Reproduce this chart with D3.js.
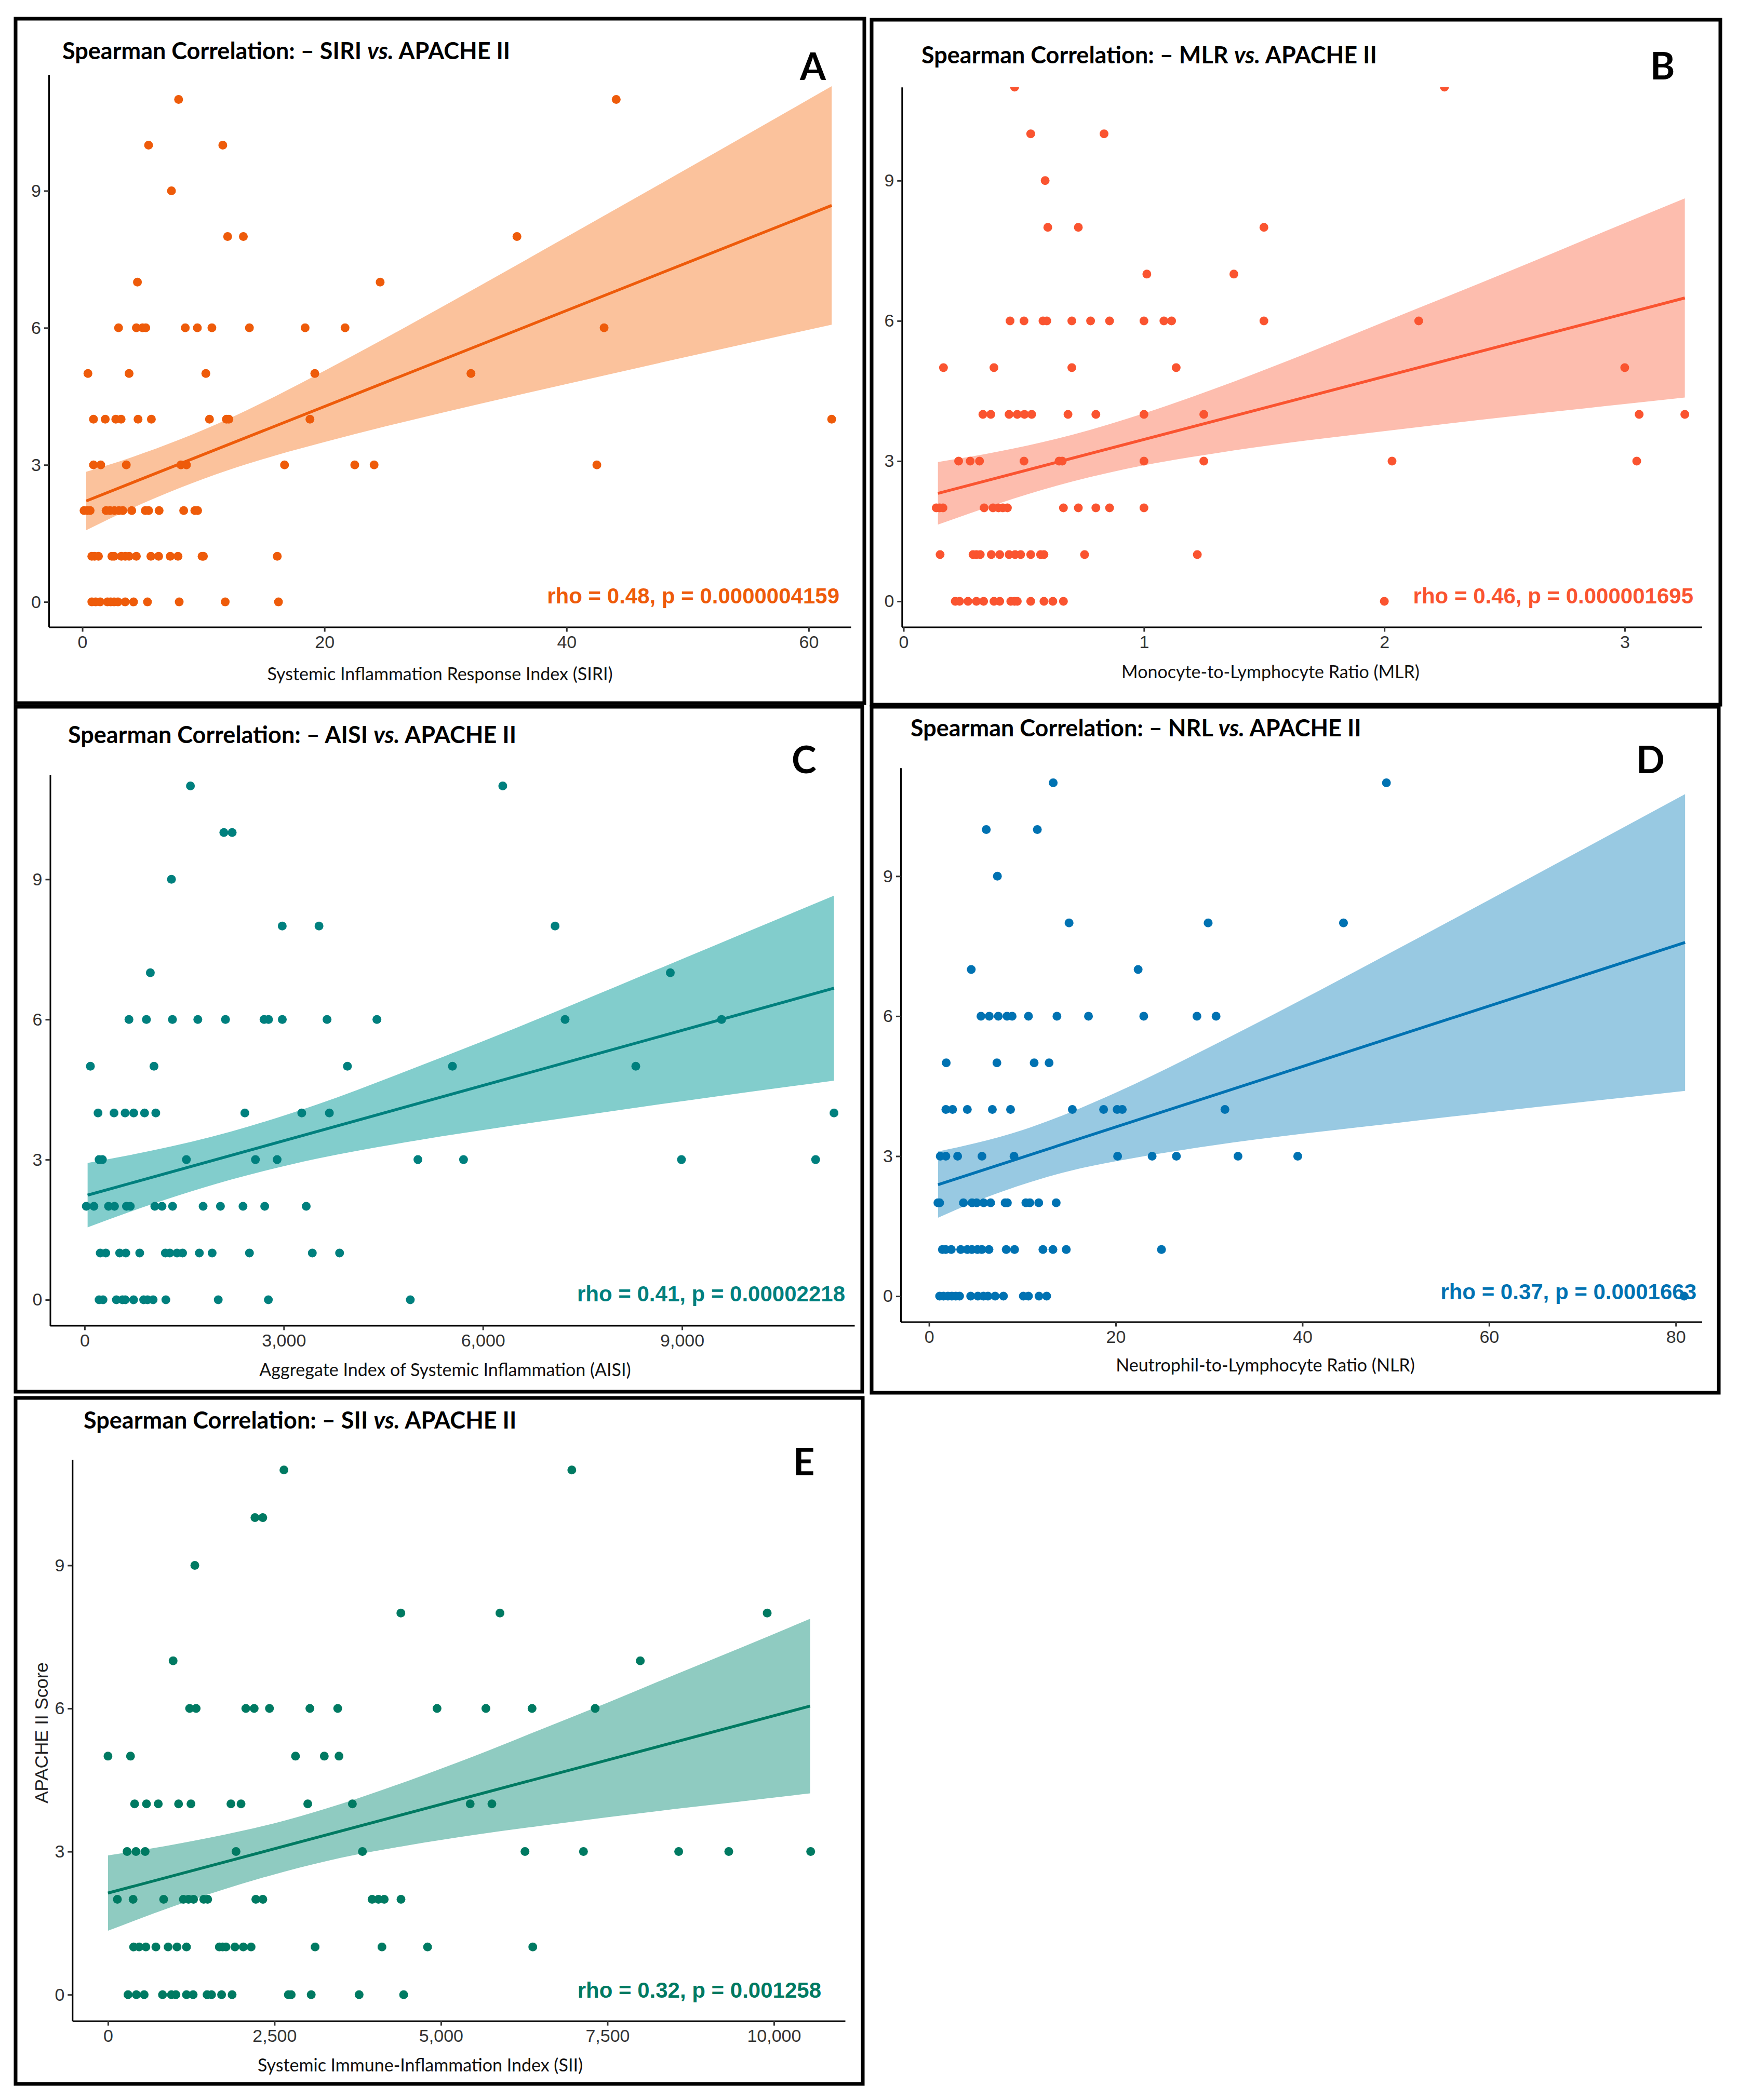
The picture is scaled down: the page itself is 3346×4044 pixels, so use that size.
<!DOCTYPE html>
<html>
<head>
<meta charset="utf-8">
<script src="https://cdn.jsdelivr.net/npm/d3@7"></script>
<style>
  body { margin: 0; background: #fff; }
  svg { display: block; }
  text { white-space: pre; }
</style>
</head>
<body>
<div id="chart"></div>
<script>
// ---- data: [index value, APACHE II score] ----
const yTicks = [0, 3, 6, 9];

const siriPoints = [
  [7.95, 11], [44.1, 11],
  [5.47, 10], [11.6, 10],
  [7.36, 9],
  [12.0, 8], [13.3, 8], [35.9, 8],
  [4.55, 7], [24.6, 7],
  [2.99, 6], [4.46, 6], [4.97, 6], [5.24, 6], [8.5, 6], [9.5, 6], [10.7, 6], [13.8, 6], [18.4, 6], [21.7, 6], [43.1, 6],
  [0.46, 5], [3.86, 5], [10.2, 5], [19.2, 5], [32.1, 5],
  [0.92, 4], [1.89, 4], [2.76, 4], [3.2, 4], [4.6, 4], [5.7, 4], [10.5, 4], [11.9, 4], [12.1, 4], [18.8, 4], [61.9, 4],
  [0.92, 3], [1.52, 3], [3.63, 3], [8.14, 3], [8.6, 3], [16.7, 3], [22.5, 3], [24.1, 3], [42.5, 3],
  [0.14, 2], [0.41, 2], [0.64, 2], [1.96, 2], [2.28, 2], [2.65, 2], [3.02, 2], [3.34, 2], [4.08, 2], [5.2, 2], [5.47, 2], [6.34, 2], [8.37, 2], [9.29, 2], [9.52, 2],
  [0.78, 1], [1.01, 1], [1.33, 1], [2.44, 1], [2.62, 1], [3.22, 1], [3.54, 1], [3.86, 1], [4.46, 1], [5.66, 1], [6.3, 1], [7.26, 1], [7.9, 1], [9.89, 1], [10.0, 1], [16.1, 1],
  [0.78, 0], [1.1, 0], [1.47, 0], [2.07, 0], [2.34, 0], [2.62, 0], [2.94, 0], [3.54, 0], [4.23, 0], [5.38, 0], [8.0, 0], [11.8, 0], [16.2, 0]
];
const siriFitX = [0.32, 61.9];
const siriFitY = [2.21, 8.68];
const siriBandX = [0.32, 4, 8, 12, 16, 20, 25, 30, 40, 50, 61.9];
const siriBandHi = [2.85, 3.16, 3.55, 4.00, 4.51, 5.06, 5.77, 6.50, 7.99, 9.49, 11.29];
const siriBandLo = [1.57, 2.04, 2.49, 2.88, 3.21, 3.50, 3.84, 4.16, 4.77, 5.37, 6.07];
const siriTicks = [0, 20, 40, 60];

const mlrPoints = [
  [0.462, 11], [2.25, 11],
  [0.529, 10], [0.834, 10],
  [0.589, 9],
  [0.60, 8], [0.727, 8], [1.499, 8],
  [1.012, 7], [1.374, 7],
  [0.443, 6], [0.501, 6], [0.58, 6], [0.596, 6], [0.70, 6], [0.778, 6], [0.857, 6], [1.0, 6], [1.083, 6], [1.115, 6], [1.499, 6], [2.143, 6],
  [0.166, 5], [0.376, 5], [0.70, 5], [1.134, 5], [3.0, 5],
  [0.33, 4], [0.363, 4], [0.439, 4], [0.473, 4], [0.503, 4], [0.533, 4], [0.684, 4], [0.80, 4], [1.0, 4], [1.249, 4], [3.06, 4], [3.25, 4],
  [0.229, 3], [0.277, 3], [0.316, 3], [0.501, 3], [0.647, 3], [0.66, 3], [1.0, 3], [1.249, 3], [2.032, 3], [3.05, 3],
  [0.136, 2], [0.15, 2], [0.164, 2], [0.335, 2], [0.372, 2], [0.395, 2], [0.413, 2], [0.432, 2], [0.665, 2], [0.727, 2], [0.80, 2], [0.857, 2], [1.0, 2],
  [0.152, 1], [0.289, 1], [0.303, 1], [0.319, 1], [0.365, 1], [0.40, 1], [0.439, 1], [0.464, 1], [0.487, 1], [0.529, 1], [0.57, 1], [0.584, 1], [0.753, 1], [1.222, 1],
  [0.215, 0], [0.233, 0], [0.268, 0], [0.303, 0], [0.333, 0], [0.376, 0], [0.40, 0], [0.446, 0], [0.462, 0], [0.473, 0], [0.529, 0], [0.584, 0], [0.621, 0], [0.665, 0], [2.0, 0]
];
const mlrFitX = [0.143, 3.25];
const mlrFitY = [2.31, 6.49];
const mlrBandX = [0.143, 0.4, 0.7, 1.0, 1.3, 1.6, 2.0, 2.5, 3.0, 3.25];
const mlrBandHi = [2.98, 3.21, 3.56, 4.02, 4.56, 5.15, 5.98, 7.02, 8.09, 8.62];
const mlrBandLo = [1.64, 2.10, 2.56, 2.91, 3.17, 3.39, 3.64, 3.94, 4.22, 4.36];
const mlrTicks = [0, 1, 2, 3];

const aisiPoints = [
  [1594, 11], [6299, 11],
  [2097, 10], [2223, 10],
  [1308, 9],
  [2977, 8], [3531, 8], [7087, 8],
  [990, 7], [8823, 7],
  [668, 6], [931, 6], [1323, 6], [1705, 6], [2122, 6], [2703, 6], [2770, 6], [2978, 6], [3652, 6], [4403, 6], [7238, 6], [9595, 6],
  [87, 5], [1045, 5], [3959, 5], [5541, 5], [8303, 5],
  [202, 4], [443, 4], [610, 4], [740, 4], [903, 4], [1072, 4], [2414, 4], [3271, 4], [3687, 4], [11289, 4],
  [218, 3], [268, 3], [1533, 3], [2573, 3], [2900, 3], [5021, 3], [5708, 3], [8991, 3], [11012, 3],
  [25, 2], [140, 2], [360, 2], [450, 2], [630, 2], [688, 2], [1057, 2], [1166, 2], [1325, 2], [1785, 2], [2046, 2], [2386, 2], [2713, 2], [3338, 2],
  [235, 1], [319, 1], [528, 1], [621, 1], [830, 1], [1216, 1], [1283, 1], [1392, 1], [1476, 1], [1728, 1], [1921, 1], [2483, 1], [3430, 1], [3841, 1],
  [218, 0], [277, 0], [478, 0], [570, 0], [612, 0], [738, 0], [889, 0], [948, 0], [1032, 0], [1224, 0], [2013, 0], [2768, 0], [4906, 0]
];
const aisiFitX = [45, 11289];
const aisiFitY = [2.24, 6.67];
const aisiBandX = [45, 1000, 2200, 3500, 5000, 6500, 8000, 9500, 11289];
const aisiBandHi = [2.93, 3.19, 3.60, 4.18, 4.98, 5.82, 6.70, 7.59, 8.65];
const aisiBandLo = [1.55, 2.04, 2.57, 3.02, 3.41, 3.74, 4.05, 4.35, 4.69];
const aisiTicks = [0, 3000, 6000, 9000];

const nlrPoints = [
  [13.3, 11], [49.0, 11],
  [6.13, 10], [11.6, 10],
  [7.32, 9],
  [15.0, 8], [29.9, 8], [44.4, 8],
  [4.52, 7], [22.4, 7],
  [5.56, 6], [6.45, 6], [7.42, 6], [8.35, 6], [8.9, 6], [10.65, 6], [13.7, 6], [17.08, 6], [23.0, 6], [28.7, 6], [30.75, 6],
  [1.84, 5], [7.27, 5], [11.26, 5], [12.86, 5],
  [1.8, 4], [2.52, 4], [4.1, 4], [6.78, 4], [8.73, 4], [15.35, 4], [18.7, 4], [20.15, 4], [20.7, 4], [31.7, 4],
  [1.2, 3], [1.8, 3], [3.06, 3], [5.67, 3], [9.1, 3], [20.2, 3], [23.9, 3], [26.5, 3], [33.1, 3], [39.5, 3],
  [0.95, 2], [1.13, 2], [3.68, 2], [4.6, 2], [5.1, 2], [5.85, 2], [6.6, 2], [8.15, 2], [8.39, 2], [10.37, 2], [10.8, 2], [11.75, 2], [13.62, 2],
  [1.43, 1], [1.78, 1], [2.38, 1], [3.39, 1], [4.1, 1], [4.58, 1], [5.18, 1], [5.65, 1], [6.42, 1], [8.27, 1], [9.16, 1], [12.2, 1], [13.27, 1], [14.7, 1], [24.9, 1],
  [1.13, 0], [1.55, 0], [2.02, 0], [2.44, 0], [2.86, 0], [3.27, 0], [4.46, 0], [5.23, 0], [5.83, 0], [6.31, 0], [7.08, 0], [7.97, 0], [10.1, 0], [10.65, 0], [11.78, 0], [12.6, 0], [80.9, 0]
];
const nlrFitX = [0.96, 81];
const nlrFitY = [2.39, 7.58];
const nlrBandX = [0.96, 5, 10, 15, 20, 30, 40, 50, 60, 70, 81];
const nlrBandHi = [3.10, 3.28, 3.56, 3.93, 4.36, 5.33, 6.36, 7.42, 8.49, 9.57, 10.76];
const nlrBandLo = [1.68, 2.03, 2.39, 2.68, 2.89, 3.22, 3.48, 3.71, 3.94, 4.16, 4.40];
const nlrTicks = [0, 20, 40, 60, 80];

const siiPoints = [
  [2642, 11], [6965, 11],
  [2207, 10], [2324, 10],
  [1304, 9],
  [4398, 8], [5886, 8], [9899, 8],
  [978, 7], [7993, 7],
  [1226, 6], [1324, 6], [2070, 6], [2195, 6], [2425, 6], [3032, 6], [3450, 6], [4941, 6], [5675, 6], [6368, 6], [7316, 6],
  [0, 5], [338, 5], [2816, 5], [3248, 5], [3469, 5],
  [400, 4], [578, 4], [755, 4], [1060, 4], [1246, 4], [1846, 4], [1998, 4], [3000, 4], [3670, 4], [5439, 4], [5765, 4],
  [287, 3], [420, 3], [558, 3], [1923, 3], [3821, 3], [6262, 3], [7140, 3], [8570, 3], [9322, 3], [10552, 3],
  [141, 2], [377, 2], [836, 2], [1132, 2], [1209, 2], [1285, 2], [1438, 2], [1497, 2], [2220, 2], [2325, 2], [3966, 2], [4061, 2], [4148, 2], [4400, 2],
  [385, 1], [468, 1], [569, 1], [719, 1], [903, 1], [1037, 1], [1179, 1], [1672, 1], [1722, 1], [1772, 1], [1906, 1], [2032, 1], [2149, 1], [3110, 1], [4114, 1], [4799, 1], [6379, 1],
  [301, 0], [426, 0], [543, 0], [819, 0], [953, 0], [1020, 0], [1179, 0], [1279, 0], [1488, 0], [1555, 0], [1706, 0], [1864, 0], [2709, 0], [2751, 0], [3052, 0], [3771, 0], [4440, 0]
];
const siiFitX = [0, 10544];
const siiFitY = [2.13, 6.05];
const siiBandX = [0, 1000, 2000, 2650, 3500, 4500, 5500, 6500, 7500, 8500, 9500, 10544];
const siiBandHi = [2.92, 3.15, 3.43, 3.65, 4.00, 4.48, 5.00, 5.56, 6.12, 6.70, 7.27, 7.88];
const siiBandLo = [1.34, 1.86, 2.32, 2.58, 2.87, 3.13, 3.35, 3.54, 3.72, 3.89, 4.05, 4.22];
const siiTicks = [0, 2500, 5000, 7500, 10000];

const panels = [
  {
    letter: 'A', abbr: 'SIRI', xLabel: 'Systemic Inflammation Response Index (SIRI)',
    rho: 'rho = 0.48, p = 0.0000004159', color: '#EE5B0A', band: '#FBC29C',
    points: siriPoints, fitX: siriFitX, fitY: siriFitY,
    bandX: siriBandX, bandHi: siriBandHi, bandLo: siriBandLo, ticks: siriTicks, fmt: d3.format('d'),
    frame: [30, 36, 1664, 1354], xRange: [94, 1638], xDomain: [-2.77, 63.48],
    yRange: [1207.5, 144], yTop: 11.54,
    titlePos: [120, 114], letterPos: [1540, 154], xLabelPos: [847, 1310], rhoPos: [1616, 1162]
  },
  {
    letter: 'B', abbr: 'MLR', xLabel: 'Monocyte-to-Lymphocyte Ratio (MLR)',
    rho: 'rho = 0.46, p = 0.000001695', color: '#FA5430', band: '#FDBDAE',
    points: mlrPoints, fitX: mlrFitX, fitY: mlrFitY,
    bandX: mlrBandX, bandHi: mlrBandHi, bandLo: mlrBandLo, ticks: mlrTicks, fmt: d3.format('d'),
    frame: [1678, 38, 3312, 1357], xRange: [1736.3, 3276.5], xDomain: [-0.007, 3.321],
    yRange: [1207.5, 167.8], yTop: 11.0,
    titlePos: [1774, 122], letterPos: [3177, 153], xLabelPos: [2446, 1306], rhoPos: [3260, 1162]
  },
  {
    letter: 'C', abbr: 'AISI', xLabel: 'Aggregate Index of Systemic Inflammation (AISI)',
    rho: 'rho = 0.41, p = 0.00002218', color: '#00807E', band: '#82CDCC',
    points: aisiPoints, fitX: aisiFitX, fitY: aisiFitY,
    bandX: aisiBandX, bandHi: aisiBandHi, bandLo: aisiBandLo, ticks: aisiTicks, fmt: d3.format(','),
    frame: [30, 1361, 1660, 2680], xRange: [96.5, 1645], xDomain: [-519.6, 11597],
    yRange: [2552.5, 1491.8], yTop: 11.24,
    titlePos: [131, 1431], letterPos: [1524, 1489], xLabelPos: [857, 2650], rhoPos: [1627, 2506]
  },
  {
    letter: 'D', abbr: 'NRL', xLabel: 'Neutrophil-to-Lymphocyte Ratio (NLR)',
    rho: 'rho = 0.37, p = 0.0001663', color: '#0072B2', band: '#98C9E2',
    points: nlrPoints, fitX: nlrFitX, fitY: nlrFitY,
    bandX: nlrBandX, bandHi: nlrBandHi, bandLo: nlrBandLo, ticks: nlrTicks, fmt: d3.format('d'),
    frame: [1678, 1361, 3309, 2682], xRange: [1734, 3276.5], xDomain: [-3.04, 82.8],
    yRange: [2545.5, 1478.8], yTop: 11.32,
    titlePos: [1753, 1418], letterPos: [3150, 1489], xLabelPos: [2436, 2641], rhoPos: [3266, 2502]
  },
  {
    letter: 'E', abbr: 'SII', xLabel: 'Systemic Immune-Inflammation Index (SII)',
    rho: 'rho = 0.32, p = 0.001258', color: '#007A62', band: '#8FCBC1',
    points: siiPoints, fitX: siiFitX, fitY: siiFitY,
    bandX: siiBandX, bandHi: siiBandHi, bandLo: siiBandLo, ticks: siiTicks, fmt: d3.format(','),
    frame: [30, 2692, 1661, 4013], xRange: [139.3, 1627], xDomain: [-535, 11069],
    yRange: [3891.7, 2810.5], yTop: 11.22,
    titlePos: [161, 2751], letterPos: [1527, 2841], xLabelPos: [809, 3989], rhoPos: [1581, 3847],
    yLabel: 'APACHE II Score', yLabelPos: [80, 3337]
  }
];

const W = 3346, H = 4044;
const titleFont = 'Lato, "Open Sans", sans-serif';
const plotFont = '"Liberation Sans", Arial, sans-serif';

const svg = d3.select('#chart')
  .append('svg')
  .attr('width', W)
  .attr('height', H)
  .attr('viewBox', `0 0 ${W} ${H}`);

svg.append('rect').attr('width', W).attr('height', H).attr('fill', '#fff');

panels.forEach((p, i) => drawPanel(p, i));

function drawPanel(p, i) {
  const g = svg.append('g');

  const x = d3.scaleLinear().domain(p.xDomain).range(p.xRange);
  const y = d3.scaleLinear().domain([-0.55, p.yTop]).range(p.yRange);

  // panel clip, like ggplot's plotting area
  const clipId = `clip-${i}`;
  g.append('clipPath').attr('id', clipId)
    .append('rect')
    .attr('x', p.xRange[0])
    .attr('y', p.yRange[1])
    .attr('width', p.xRange[1] - p.xRange[0])
    .attr('height', p.yRange[0] - p.yRange[1]);

  const plot = g.append('g').attr('clip-path', `url(#${clipId})`);

  // confidence band
  const bandData = p.bandX.map((v, k) => ({ x: v, lo: p.bandLo[k], hi: p.bandHi[k] }));
  const area = d3.area()
    .x(d => x(d.x))
    .y0(d => y(d.lo))
    .y1(d => y(d.hi))
    .curve(d3.curveMonotoneX);

  plot.append('path')
    .datum(bandData)
    .attr('d', area)
    .attr('fill', p.band);

  // fitted line
  const fitData = p.fitX.map((v, k) => ({ x: v, y: p.fitY[k] }));
  plot.append('path')
    .datum(fitData)
    .attr('d', d3.line().x(d => x(d.x)).y(d => y(d.y)))
    .attr('fill', 'none')
    .attr('stroke', p.color)
    .attr('stroke-width', 5.5);

  // points
  plot.selectAll('circle')
    .data(p.points)
    .enter()
    .append('circle')
    .attr('cx', d => x(d[0]))
    .attr('cy', d => y(d[1]))
    .attr('r', 8.5)
    .attr('fill', p.color);

  // axes
  const xAxis = g.append('g')
    .attr('transform', `translate(0,${p.yRange[0]})`)
    .call(d3.axisBottom(x).tickValues(p.ticks).tickFormat(p.fmt).tickSize(9).tickSizeOuter(0).tickPadding(7));

  const yAxis = g.append('g')
    .attr('transform', `translate(${p.xRange[0]},0)`)
    .call(d3.axisLeft(y).tickValues(yTicks).tickFormat(d3.format('d')).tickSize(9).tickSizeOuter(0).tickPadding(6));

  [xAxis, yAxis].forEach(ax => {
    ax.select('.domain').attr('stroke', '#000').attr('stroke-width', 3);
    ax.selectAll('.tick line').attr('stroke', '#333').attr('stroke-width', 3);
    ax.selectAll('.tick text')
      .attr('fill', '#333')
      .style('font-family', plotFont)
      .style('font-size', '34px');
  });

  // rho / p annotation
  g.append('text')
    .attr('x', p.rhoPos[0])
    .attr('y', p.rhoPos[1])
    .attr('text-anchor', 'end')
    .attr('fill', p.color)
    .style('font-family', plotFont)
    .style('font-weight', 700)
    .style('font-size', '42px')
    .text(p.rho);

  // x axis title
  g.append('text')
    .attr('x', p.xLabelPos[0])
    .attr('y', p.xLabelPos[1])
    .attr('text-anchor', 'middle')
    .attr('fill', '#111')
    .style('font-family', titleFont)
    .style('font-size', '34px')
    .text(p.xLabel);

  if (p.yLabel) {
    g.append('text')
      .attr('transform', `translate(${p.yLabelPos[0]},${p.yLabelPos[1]}) rotate(-90)`)
      .attr('text-anchor', 'middle')
      .attr('dy', '0.35em')
      .attr('fill', '#222')
      .style('font-family', plotFont)
      .style('font-size', '35px')
      .text(p.yLabel);
  }

  // title
  const t = g.append('text')
    .attr('x', p.titlePos[0])
    .attr('y', p.titlePos[1])
    .attr('fill', '#000')
    .style('font-family', titleFont)
    .style('font-weight', 700)
    .style('font-size', '45px');
  t.append('tspan').text(`Spearman Correlation: \u2013 ${p.abbr} `);
  t.append('tspan').style('font-style', 'italic').text('vs.');
  t.append('tspan').text(' APACHE II');

  // panel letter
  g.append('text')
    .attr('x', p.letterPos[0])
    .attr('y', p.letterPos[1])
    .attr('fill', '#000')
    .style('font-family', titleFont)
    .style('font-weight', 700)
    .style('font-size', '72px')
    .text(p.letter);

  // frame
  const [fx0, fy0, fx1, fy1] = p.frame;
  g.append('rect')
    .attr('x', fx0)
    .attr('y', fy0)
    .attr('width', fx1 - fx0)
    .attr('height', fy1 - fy0)
    .attr('fill', 'none')
    .attr('stroke', '#000')
    .attr('stroke-width', 7);
}
</script>
</body>
</html>
